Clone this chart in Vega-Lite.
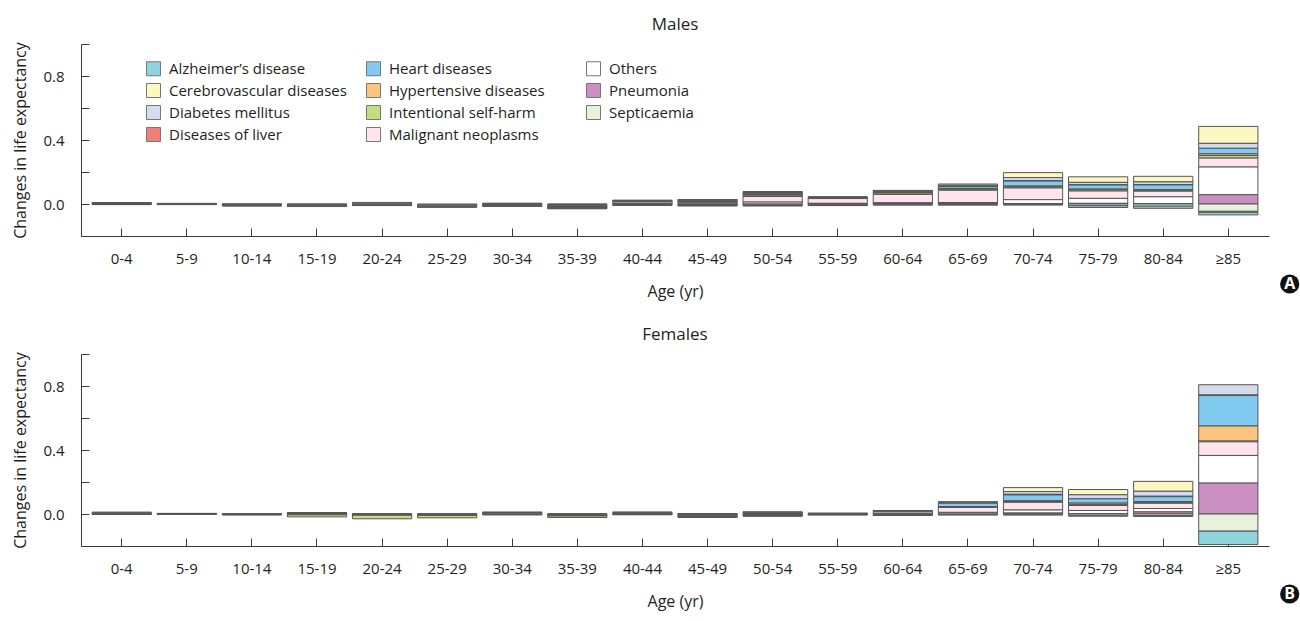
{
  "$schema": "https://vega.github.io/schema/vega-lite/v6.json",
  "background": "white",
  "padding": {"left": 12, "top": 16, "right": 0, "bottom": 6},
  "spacing": 27,
  "config": {
    "font": "Open Sans",
    "view": {"stroke": null},
    "title": {"fontSize": 17, "fontWeight": "normal", "color": "#231f20", "anchor": "middle", "offset": 3},
    "axis": {
      "grid": false,
      "domainColor": "#3a3a3a",
      "tickColor": "#3a3a3a",
      "labelColor": "#231f20",
      "titleColor": "#231f20",
      "labelFontSize": 15,
      "titleFontSize": 16,
      "titleFontWeight": "normal"
    },
    "legend": {"labelColor": "#231f20"}
  },
  "datasets": {
    "males": [
      {"age": "0-4", "Heart diseases": 0.001, "Malignant neoplasms": 0.001, "Others": 0.005, "Pneumonia": 0.001, "Septicaemia": -0.003, "Diseases of liver": -0.001},
      {"age": "5-9", "Heart diseases": 0.001, "Malignant neoplasms": 0.001, "Others": 0.002, "Intentional self-harm": -0.001, "Septicaemia": -0.001, "Diseases of liver": -0.001, "Pneumonia": -0.001},
      {"age": "10-14", "Intentional self-harm": -0.004, "Others": -0.003, "Malignant neoplasms": -0.002, "Heart diseases": -0.001, "Septicaemia": -0.001, "Pneumonia": -0.001},
      {"age": "15-19", "Intentional self-harm": -0.008, "Others": -0.004, "Malignant neoplasms": -0.002, "Septicaemia": -0.001, "Heart diseases": -0.001},
      {"age": "20-24", "Others": 0.008, "Malignant neoplasms": 0.002, "Intentional self-harm": -0.004, "Septicaemia": -0.002, "Pneumonia": -0.002, "Diseases of liver": -0.002},
      {"age": "25-29", "Intentional self-harm": -0.01, "Others": -0.004, "Malignant neoplasms": -0.002, "Diseases of liver": -0.002, "Heart diseases": -0.002},
      {"age": "30-34", "Malignant neoplasms": 0.003, "Others": 0.002, "Pneumonia": -0.002, "Intentional self-harm": -0.006, "Heart diseases": -0.003, "Diseases of liver": -0.003, "Septicaemia": -0.001},
      {"age": "35-39", "Septicaemia": -0.002, "Pneumonia": -0.002, "Others": -0.004, "Malignant neoplasms": -0.004, "Intentional self-harm": -0.004, "Hypertensive diseases": -0.002, "Heart diseases": -0.004, "Diseases of liver": -0.004, "Diabetes mellitus": -0.002, "Cerebrovascular diseases": -0.002},
      {"age": "40-44", "Others": 0.005, "Malignant neoplasms": 0.01, "Heart diseases": 0.003, "Diseases of liver": 0.003, "Cerebrovascular diseases": 0.002, "Diabetes mellitus": 0.001, "Septicaemia": -0.003, "Pneumonia": -0.002, "Intentional self-harm": -0.004},
      {"age": "45-49", "Others": 0.008, "Malignant neoplasms": 0.008, "Heart diseases": 0.004, "Diseases of liver": 0.004, "Diabetes mellitus": 0.002, "Cerebrovascular diseases": 0.002, "Intentional self-harm": -0.004, "Septicaemia": -0.003, "Pneumonia": -0.003, "Hypertensive diseases": -0.002},
      {"age": "50-54", "Others": 0.012, "Malignant neoplasms": 0.035, "Intentional self-harm": 0.008, "Hypertensive diseases": 0.002, "Heart diseases": 0.006, "Diseases of liver": 0.006, "Diabetes mellitus": 0.004, "Cerebrovascular diseases": 0.005, "Septicaemia": -0.005, "Pneumonia": -0.005, "Alzheimer’s disease": -0.002},
      {"age": "55-59", "Malignant neoplasms": 0.03, "Others": 0.004, "Heart diseases": 0.004, "Diseases of liver": 0.003, "Diabetes mellitus": 0.002, "Cerebrovascular diseases": 0.002, "Septicaemia": -0.004, "Pneumonia": -0.004, "Intentional self-harm": -0.002},
      {"age": "60-64", "Malignant neoplasms": 0.052, "Others": 0.006, "Pneumonia": 0.002, "Intentional self-harm": 0.008, "Hypertensive diseases": 0.002, "Heart diseases": 0.006, "Diseases of liver": 0.002, "Diabetes mellitus": 0.003, "Cerebrovascular diseases": 0.004, "Septicaemia": -0.004, "Alzheimer’s disease": -0.003},
      {"age": "65-69", "Others": 0.005, "Pneumonia": 0.004, "Malignant neoplasms": 0.077, "Intentional self-harm": 0.006, "Hypertensive diseases": 0.004, "Heart diseases": 0.012, "Diseases of liver": 0.003, "Diabetes mellitus": 0.006, "Cerebrovascular diseases": 0.008, "Septicaemia": -0.004, "Alzheimer’s disease": -0.003},
      {"age": "70-74", "Cerebrovascular diseases": 0.031, "Diabetes mellitus": 0.019, "Diseases of liver": 0.003, "Heart diseases": 0.031, "Hypertensive diseases": 0.004, "Intentional self-harm": 0.008, "Malignant neoplasms": 0.073, "Others": 0.025, "Pneumonia": 0.002, "Septicaemia": -0.004, "Alzheimer’s disease": -0.002},
      {"age": "75-79", "Cerebrovascular diseases": 0.035, "Diabetes mellitus": 0.015, "Diseases of liver": 0.002, "Heart diseases": 0.025, "Hypertensive diseases": 0.004, "Intentional self-harm": 0.008, "Malignant neoplasms": 0.046, "Others": 0.031, "Pneumonia": 0.004, "Septicaemia": -0.01, "Alzheimer’s disease": -0.012},
      {"age": "80-84", "Cerebrovascular diseases": 0.035, "Diabetes mellitus": 0.017, "Diseases of liver": 0.002, "Heart diseases": 0.029, "Hypertensive diseases": 0.004, "Intentional self-harm": 0.006, "Malignant neoplasms": 0.035, "Others": 0.042, "Pneumonia": 0.003, "Septicaemia": -0.012, "Alzheimer’s disease": -0.015},
      {"age": "≥85", "Cerebrovascular diseases": 0.106, "Diabetes mellitus": 0.031, "Heart diseases": 0.035, "Hypertensive diseases": 0.01, "Intentional self-harm": 0.016, "Malignant neoplasms": 0.056, "Others": 0.173, "Pneumonia": 0.058, "Septicaemia": -0.045, "Diseases of liver": -0.006, "Alzheimer’s disease": -0.017}
    ],
    "females": [
      {"age": "0-4", "Others": 0.008, "Malignant neoplasms": 0.001, "Pneumonia": 0.002, "Septicaemia": -0.002, "Heart diseases": -0.001},
      {"age": "5-9", "Others": 0.003, "Malignant neoplasms": 0.001, "Septicaemia": -0.002, "Pneumonia": -0.001},
      {"age": "10-14", "Malignant neoplasms": 0.002, "Heart diseases": 0.001, "Intentional self-harm": -0.002, "Others": -0.003, "Septicaemia": -0.001},
      {"age": "15-19", "Others": 0.004, "Malignant neoplasms": 0.003, "Heart diseases": 0.002, "Intentional self-harm": -0.014, "Septicaemia": -0.002, "Pneumonia": -0.002},
      {"age": "20-24", "Heart diseases": 0.002, "Intentional self-harm": -0.024, "Others": -0.003, "Malignant neoplasms": -0.002, "Pneumonia": -0.001},
      {"age": "25-29", "Heart diseases": 0.001, "Intentional self-harm": -0.016, "Others": -0.004, "Malignant neoplasms": -0.002, "Septicaemia": -0.002},
      {"age": "30-34", "Others": 0.006, "Malignant neoplasms": 0.004, "Heart diseases": 0.002, "Septicaemia": -0.002, "Intentional self-harm": -0.004},
      {"age": "35-39", "Pneumonia": 0.001, "Intentional self-harm": -0.01, "Others": -0.004, "Malignant neoplasms": -0.003, "Septicaemia": -0.002, "Heart diseases": -0.002},
      {"age": "40-44", "Others": 0.008, "Malignant neoplasms": 0.004, "Pneumonia": 0.001, "Septicaemia": -0.002, "Intentional self-harm": -0.003},
      {"age": "45-49", "Cerebrovascular diseases": 0.002, "Diabetes mellitus": 0.001, "Others": -0.004, "Malignant neoplasms": -0.004, "Intentional self-harm": -0.004, "Heart diseases": -0.003, "Diseases of liver": -0.002, "Septicaemia": -0.002, "Pneumonia": -0.002},
      {"age": "50-54", "Malignant neoplasms": 0.006, "Others": 0.002, "Heart diseases": 0.002, "Cerebrovascular diseases": 0.002, "Diabetes mellitus": 0.001, "Septicaemia": -0.003, "Pneumonia": -0.003, "Intentional self-harm": -0.004, "Diseases of liver": -0.002, "Alzheimer’s disease": -0.001},
      {"age": "55-59", "Malignant neoplasms": 0.003, "Heart diseases": 0.001, "Cerebrovascular diseases": 0.001, "Septicaemia": -0.002, "Pneumonia": -0.002, "Intentional self-harm": -0.002},
      {"age": "60-64", "Others": 0.004, "Malignant neoplasms": 0.01, "Heart diseases": 0.003, "Diabetes mellitus": 0.002, "Cerebrovascular diseases": 0.002, "Septicaemia": -0.004, "Pneumonia": -0.003, "Alzheimer’s disease": -0.002},
      {"age": "65-69", "Cerebrovascular diseases": 0.004, "Diabetes mellitus": 0.006, "Heart diseases": 0.021, "Hypertensive diseases": 0.004, "Intentional self-harm": 0.001, "Malignant neoplasms": 0.031, "Others": 0.01, "Septicaemia": -0.004, "Alzheimer’s disease": -0.002},
      {"age": "70-74", "Cerebrovascular diseases": 0.025, "Diabetes mellitus": 0.017, "Diseases of liver": 0.004, "Heart diseases": 0.036, "Hypertensive diseases": 0.006, "Intentional self-harm": 0.004, "Malignant neoplasms": 0.048, "Others": 0.019, "Pneumonia": 0.006, "Septicaemia": -0.004, "Alzheimer’s disease": -0.002},
      {"age": "75-79", "Cerebrovascular diseases": 0.033, "Diabetes mellitus": 0.025, "Heart diseases": 0.027, "Hypertensive diseases": 0.008, "Intentional self-harm": 0.007, "Malignant neoplasms": 0.031, "Others": 0.02, "Pneumonia": 0.002, "Septicaemia": -0.008, "Alzheimer’s disease": -0.006},
      {"age": "80-84", "Cerebrovascular diseases": 0.062, "Diabetes mellitus": 0.031, "Diseases of liver": 0.003, "Heart diseases": 0.03, "Hypertensive diseases": 0.008, "Intentional self-harm": 0.003, "Malignant neoplasms": 0.033, "Others": 0.021, "Pneumonia": 0.013, "Septicaemia": -0.01, "Alzheimer’s disease": -0.005},
      {"age": "≥85", "Diabetes mellitus": 0.064, "Diseases of liver": 0.004, "Heart diseases": 0.19, "Hypertensive diseases": 0.094, "Intentional self-harm": 0.005, "Malignant neoplasms": 0.085, "Others": 0.173, "Pneumonia": 0.193, "Septicaemia": -0.106, "Alzheimer’s disease": -0.085}
    ]
  },
  "resolve": {"scale": {"color": "independent"}, "legend": {"color": "independent"}},
  "vconcat": [
    {
      "title": "Males",
      "width": 1188,
      "height": 192,
      "layer": [
        {
          "data": {"name": "males"},
          "transform": [
            {"fold": ["Alzheimer’s disease", "Cerebrovascular diseases", "Diabetes mellitus", "Diseases of liver", "Heart diseases", "Hypertensive diseases", "Intentional self-harm", "Malignant neoplasms", "Others", "Pneumonia", "Septicaemia"], "as": ["cause", "value"]},
            {"filter": "isValid(datum.value) && datum.value != 0"}
          ],
          "mark": {"type": "bar", "stroke": "#555555", "strokeWidth": 1},
          "encoding": {
            "x": {
              "field": "age", "type": "nominal",
              "scale": {"domain": ["0-4", "5-9", "10-14", "15-19", "20-24", "25-29", "30-34", "35-39", "40-44", "45-49", "50-54", "55-59", "60-64", "65-69", "70-74", "75-79", "80-84", "≥85"], "paddingInner": 0.09, "paddingOuter": 0.17},
              "axis": {"title": "Age (yr)", "labelAngle": 0, "tickSize": -8, "labelPadding": 23, "titlePadding": 17}
            },
            "y": {
              "field": "value", "type": "quantitative", "stack": "zero",
              "scale": {"domain": [-0.2, 1.0], "nice": false, "zero": false},
              "axis": {"title": "Changes in life expectancy", "values": [-0.2, 0, 0.2, 0.4, 0.6, 0.8, 1.0], "tickCount": 12, "labelExpr": "datum.value == 0 || datum.value == 0.4 || datum.value == 0.8 ? format(datum.value, '.1f') : ''", "labelOverlap": false, "tickSize": -8, "labelPadding": 25, "titlePadding": 14}
            },
            "color": {
              "field": "cause", "type": "nominal",
              "scale": {
                "domain": ["Alzheimer’s disease", "Cerebrovascular diseases", "Diabetes mellitus", "Diseases of liver", "Heart diseases", "Hypertensive diseases", "Intentional self-harm", "Malignant neoplasms", "Others", "Pneumonia", "Septicaemia"],
                "range": ["#8fd3dc", "#fdf7c2", "#d6dcef", "#ef8078", "#80cbef", "#fcc57f", "#c4dd7e", "#fde4ee", "#ffffff", "#c990c1", "#e6f2dc"]
              },
              "legend": {
                "title": null,
                "orient": "none", "legendX": 65, "legendY": 17,
                "columns": 3,
                "gridAlign": "all",
                "symbolType": "square", "symbolSize": 196, "symbolStrokeColor": "#777777", "symbolStrokeWidth": 1, "symbolOpacity": 1,
                "labelFontSize": 15, "labelLimit": 300, "labelOffset": 8, "rowPadding": 3, "columnPadding": 17, "padding": 0
              }
            },
            "order": {"field": "cause", "sort": "descending"}
          }
        },
        {
          "data": {"values": [{"tag": "A"}]},
          "mark": {"type": "point", "filled": true, "color": "#111111", "opacity": 1, "size": 370, "shape": "circle"},
          "encoding": {"x": {"datum": "≥85"}, "xOffset": {"value": 91}, "y": {"datum": -0.5}}
        },
        {
          "data": {"values": [{"tag": "A"}]},
          "mark": {"type": "text", "color": "white", "fontWeight": "bold", "fontSize": 16},
          "encoding": {"x": {"datum": "≥85"}, "xOffset": {"value": 91}, "y": {"datum": -0.5}, "text": {"field": "tag"}}
        }
      ]
    },
    {
      "title": "Females",
      "width": 1188,
      "height": 192,
      "layer": [
        {
          "data": {"name": "females"},
          "transform": [
            {"fold": ["Alzheimer’s disease", "Cerebrovascular diseases", "Diabetes mellitus", "Diseases of liver", "Heart diseases", "Hypertensive diseases", "Intentional self-harm", "Malignant neoplasms", "Others", "Pneumonia", "Septicaemia"], "as": ["cause", "value"]},
            {"filter": "isValid(datum.value) && datum.value != 0"}
          ],
          "mark": {"type": "bar", "stroke": "#555555", "strokeWidth": 1},
          "encoding": {
            "x": {
              "field": "age", "type": "nominal",
              "scale": {"domain": ["0-4", "5-9", "10-14", "15-19", "20-24", "25-29", "30-34", "35-39", "40-44", "45-49", "50-54", "55-59", "60-64", "65-69", "70-74", "75-79", "80-84", "≥85"], "paddingInner": 0.09, "paddingOuter": 0.17},
              "axis": {"title": "Age (yr)", "labelAngle": 0, "tickSize": -8, "labelPadding": 23, "titlePadding": 17}
            },
            "y": {
              "field": "value", "type": "quantitative", "stack": "zero",
              "scale": {"domain": [-0.2, 1.0], "nice": false, "zero": false},
              "axis": {"title": "Changes in life expectancy", "values": [-0.2, 0, 0.2, 0.4, 0.6, 0.8, 1.0], "tickCount": 12, "labelExpr": "datum.value == 0 || datum.value == 0.4 || datum.value == 0.8 ? format(datum.value, '.1f') : ''", "labelOverlap": false, "tickSize": -8, "labelPadding": 25, "titlePadding": 14}
            },
            "color": {
              "field": "cause", "type": "nominal",
              "scale": {
                "domain": ["Alzheimer’s disease", "Cerebrovascular diseases", "Diabetes mellitus", "Diseases of liver", "Heart diseases", "Hypertensive diseases", "Intentional self-harm", "Malignant neoplasms", "Others", "Pneumonia", "Septicaemia"],
                "range": ["#8fd3dc", "#fdf7c2", "#d6dcef", "#ef8078", "#80cbef", "#fcc57f", "#c4dd7e", "#fde4ee", "#ffffff", "#c990c1", "#e6f2dc"]
              },
              "legend": null
            },
            "order": {"field": "cause", "sort": "descending"}
          }
        },
        {
          "data": {"values": [{"tag": "B"}]},
          "mark": {"type": "point", "filled": true, "color": "#111111", "opacity": 1, "size": 370, "shape": "circle"},
          "encoding": {"x": {"datum": "≥85"}, "xOffset": {"value": 91}, "y": {"datum": -0.5}}
        },
        {
          "data": {"values": [{"tag": "B"}]},
          "mark": {"type": "text", "color": "white", "fontWeight": "bold", "fontSize": 16},
          "encoding": {"x": {"datum": "≥85"}, "xOffset": {"value": 91}, "y": {"datum": -0.5}, "text": {"field": "tag"}}
        }
      ]
    }
  ]
}
